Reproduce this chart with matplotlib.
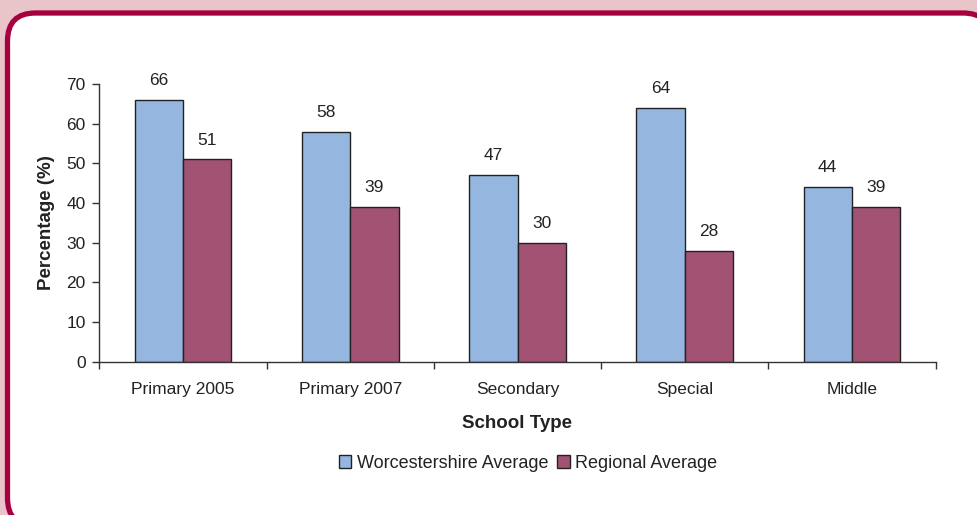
import matplotlib
matplotlib.use("Agg")
import matplotlib.pyplot as plt
from matplotlib.patches import FancyBboxPatch, Rectangle
import numpy as np

plt.rcParams['font.family'] = ['Liberation Sans', 'DejaVu Sans']

categories = ["Primary 2005", "Primary 2007", "Secondary", "Special", "Middle"]
worcestershire = [66, 58, 47, 64, 44]
regional = [51, 39, 30, 28, 39]
series_names = ["Worcestershire Average", "Regional Average"]
y_ticks = [0, 10, 20, 30, 40, 50, 60, 70]

W, H = 978, 515
fig = plt.figure(figsize=(W / 100, H / 100), dpi=100)
fig.patch.set_facecolor('#e9c4c8')

# rounded white panel with crimson border (in pixel units)
def px(x, y):
    return x / W, 1 - y / H

left, top, right, bottom, r = 7.5, 13.0, 991.0, 526.0, 28.0
x0, y0 = px(left, bottom)
panel = FancyBboxPatch((x0, y0), (right - left) / W, (bottom - top) / H,
                       boxstyle=f"round,pad=0,rounding_size={r / W}",
                       transform=fig.transFigure, facecolor='white',
                       edgecolor='#a6003f', linewidth=3.8, zorder=-10,
                       mutation_aspect=W / H)
fig.patches.append(panel)

ax_left, ax_right = 99.5, 935.5
ax_bot, ax_top = 361.7, 84.0
ax = fig.add_axes([ax_left / W, 1 - ax_bot / H, (ax_right - ax_left) / W, (ax_bot - ax_top) / H])
ax.set_zorder(5)
ax.set_facecolor('none')

text_col = '#222222'
blue = '#95b6df'
red = '#a25273'
fs = 12.5
x = np.arange(len(categories))
bw = 0.289

b1 = ax.bar(x - bw / 2, worcestershire, bw, color=blue, edgecolor='#222222', linewidth=1.0, label=series_names[0])
b2 = ax.bar(x + bw / 2, regional, bw, color=red, edgecolor='#222222', linewidth=1.0, label=series_names[1])

for bars, vals in ((b1, worcestershire), (b2, regional)):
    for rect, v in zip(bars, vals):
        ax.annotate(f"{v}", (rect.get_x() + rect.get_width() / 2, v),
                    xytext=(0, 8.5), textcoords='offset points',
                    ha='center', va='bottom', fontsize=fs, color=text_col)

ax.set_xlim(-0.5, len(categories) - 0.5)
ax.set_ylim(0, 70)
ax.set_yticks(y_ticks)
ax.set_xticks(x)
ax.set_xticklabels(categories)
ax.set_xticks(np.arange(len(categories) + 1) - 0.5, minor=True)
ax.tick_params(axis='x', which='major', length=0, pad=14.5, labelsize=fs, labelcolor=text_col)
ax.tick_params(axis='x', which='minor', length=5, width=1, color='#333333', direction='out')
ax.tick_params(axis='y', length=5, width=1, color='#333333', direction='out', pad=5,
               labelsize=fs, labelcolor=text_col)

for s in ('top', 'right'):
    ax.spines[s].set_visible(False)
for s in ('left', 'bottom'):
    ax.spines[s].set_color('#333333')
    ax.spines[s].set_linewidth(1.0)

ax.set_xlabel("School Type", fontsize=13.5, fontweight='bold', color=text_col, labelpad=13)
ax.set_ylabel("Percentage (%)", fontsize=13.5, fontweight='bold', color=text_col, labelpad=8)

handles = [Rectangle((0, 0), 1, 1, facecolor=blue, edgecolor='#222222', linewidth=1.0),
           Rectangle((0, 0), 1, 1, facecolor=red, edgecolor='#222222', linewidth=1.0)]
leg = fig.legend(handles, series_names, loc='center', ncol=2, frameon=False,
                 bbox_to_anchor=px(528, 463), fontsize=13,
                 handlelength=0.7, handleheight=0.7, handletextpad=0.3,
                 columnspacing=0.5, borderaxespad=0)
leg.set_zorder(6)
for t in leg.get_texts():
    t.set_color(text_col)

fig.savefig("out.png", dpi=100, facecolor=fig.get_facecolor())
